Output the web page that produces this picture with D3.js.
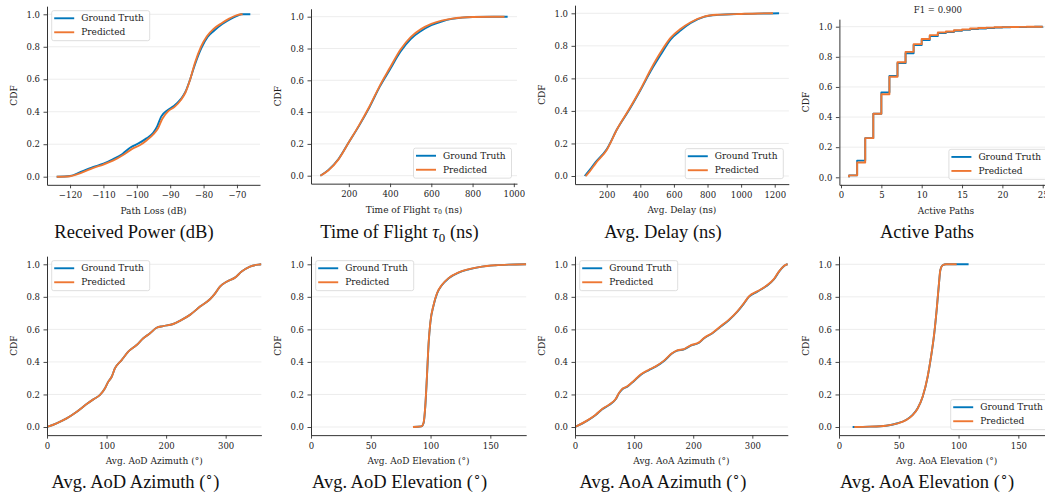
<!DOCTYPE html>
<html>
<head>
<meta charset="utf-8">
<script src="https://cdn.jsdelivr.net/npm/d3@7"></script>
<style>
  html, body { margin: 0; padding: 0; background: #ffffff; }
  svg { display: block; }
</style>
</head>
<body>
<svg id="chart" width="1045" height="500"></svg>
<script>
// ---------------- DATA ----------------
const seriesNames = ["Ground Truth", "Predicted"];
const cdfTicks = [0, 0.2, 0.4, 0.6, 0.8, 1.0];

// Received power (path loss, dB)
const plTruthX = [-124.0, -120.0, -116.8, -113.0, -110.0, -107.2, -104.3, -101.9, -99.5, -97.1, -95.1, -93.9, -92.7, -90.8, -88.9, -86.9, -85.5, -84.1, -82.6, -80.7, -78.8, -76.8, -74.4, -72.0, -69.6, -68.7, -66.0];
const plTruthY = [0, 0.004, 0.03, 0.06, 0.08, 0.107, 0.14, 0.18, 0.205, 0.236, 0.27, 0.31, 0.37, 0.41, 0.435, 0.476, 0.52, 0.595, 0.69, 0.79, 0.86, 0.90, 0.94, 0.97, 0.993, 1.0, 1.0];
const plPredX = [-124.0, -120.0, -116.5, -113.0, -110.0, -107.0, -104.0, -101.5, -99.0, -97.0, -95.0, -93.6, -92.4, -90.5, -88.7, -86.8, -85.4, -84.0, -82.6, -80.8, -79.0, -77.0, -74.6, -72.2, -70.0, -68.3];
const plPredY = [0, 0.003, 0.025, 0.055, 0.075, 0.10, 0.135, 0.17, 0.195, 0.225, 0.262, 0.30, 0.355, 0.405, 0.43, 0.472, 0.52, 0.60, 0.70, 0.80, 0.865, 0.91, 0.945, 0.975, 0.995, 1.0];
const plTicks = [-120, -110, -100, -90, -80, -70];

// Time of flight (ns)
const tofTruthX = [62, 100, 150, 200, 250, 300, 350, 400, 450, 500, 550, 600, 650, 700, 750, 800, 900, 970];
const tofTruthY = [0, 0.035, 0.105, 0.21, 0.315, 0.43, 0.56, 0.67, 0.78, 0.86, 0.91, 0.947, 0.97, 0.986, 0.994, 0.998, 1.0, 1.0];
const tofPredX = [62, 100, 150, 200, 250, 300, 350, 400, 450, 500, 550, 600, 650, 700, 750, 800, 900, 955];
const tofPredY = [0, 0.033, 0.103, 0.21, 0.318, 0.435, 0.565, 0.68, 0.792, 0.872, 0.922, 0.955, 0.975, 0.988, 0.995, 0.998, 1.0, 1.0];
const tofTicks = [200, 400, 600, 800, 1000];

// Average delay (ns)
const delayTruthX = [69, 100, 134, 200, 263, 333, 402, 462, 521, 581, 641, 700, 779, 859, 1000, 1100, 1226];
const delayTruthY = [0, 0.04, 0.085, 0.165, 0.29, 0.405, 0.53, 0.645, 0.745, 0.84, 0.895, 0.94, 0.978, 0.99, 0.996, 0.998, 1.0];
const delayPredX = [75, 100, 134, 200, 263, 333, 402, 462, 521, 581, 641, 700, 779, 859, 1000, 1100, 1190];
const delayPredY = [0, 0.03, 0.078, 0.16, 0.29, 0.41, 0.535, 0.655, 0.76, 0.85, 0.905, 0.945, 0.98, 0.991, 0.996, 0.999, 1.0];
const delayTicks = [200, 400, 600, 800, 1000, 1200];

// Active paths (step CDF)
const pathsX = [1, 1, 2, 3, 4, 5, 6, 7, 8, 9, 10, 11, 12, 13, 14, 15, 16, 17, 18, 19, 20, 21, 22, 23, 24, 25];
const pathsTruthY = [0, 0.013, 0.111, 0.26, 0.422, 0.564, 0.673, 0.758, 0.824, 0.878, 0.911, 0.938, 0.958, 0.965, 0.973, 0.979, 0.984, 0.988, 0.991, 0.994, 0.996, 0.997, 0.998, 0.999, 0.9995, 1.0];
const pathsPredY = [0, 0.013, 0.098, 0.26, 0.422, 0.551, 0.668, 0.764, 0.833, 0.884, 0.918, 0.944, 0.962, 0.968, 0.976, 0.982, 0.988, 0.991, 0.994, 0.996, 0.997, 0.998, 0.999, 0.9995, 1.0, 1.0];
const pathsTicks = [0, 5, 10, 15, 20, 25];
const f1Score = 0.900;

// AoD azimuth (deg)
const aodAzX = [0, 16, 33, 50, 66.6, 77.8, 89, 97.4, 103, 108.6, 114, 125, 136.5, 150.5, 161.7, 173, 184, 195, 212, 226, 240, 257, 273.6, 282, 290.4, 301.6, 315.6, 326.8, 340.8, 354.8, 360];
const aodAzTruthY = [0, 0.023, 0.053, 0.094, 0.141, 0.17, 0.197, 0.238, 0.279, 0.309, 0.36, 0.41, 0.463, 0.504, 0.545, 0.576, 0.61, 0.62, 0.633, 0.658, 0.689, 0.74, 0.785, 0.82, 0.863, 0.893, 0.918, 0.955, 0.986, 0.998, 1.0];
const aodAzPredY = [0, 0.023, 0.053, 0.094, 0.141, 0.17, 0.197, 0.238, 0.279, 0.309, 0.36, 0.41, 0.463, 0.504, 0.545, 0.576, 0.61, 0.62, 0.633, 0.658, 0.689, 0.74, 0.785, 0.82, 0.863, 0.893, 0.918, 0.955, 0.986, 0.998, 1.0];
const azTicks = [0, 100, 200, 300];

// AoD elevation (deg)
const aodElX = [85.3, 92.3, 94.2, 95.6, 97, 98.4, 99.8, 102.6, 105.4, 109.6, 115.1, 123.5, 132, 143, 154.2, 165.3, 180];
const aodElTruthY = [0, 0.004, 0.025, 0.127, 0.31, 0.515, 0.64, 0.75, 0.82, 0.873, 0.914, 0.949, 0.969, 0.986, 0.994, 0.998, 1.0];
const aodElPredY = [0, 0.004, 0.028, 0.13, 0.315, 0.52, 0.642, 0.752, 0.822, 0.874, 0.915, 0.95, 0.97, 0.986, 0.994, 0.998, 1.0];
const elTicks = [0, 50, 100, 150];

// AoA azimuth (deg)
const aoaAzX = [0, 20.9, 35, 46, 57.5, 68.8, 74.4, 80, 88.5, 99.8, 111, 125, 136.5, 150.6, 164.7, 173, 184.4, 195.7, 209.8, 218.3, 232.4, 246.5, 260.6, 274.7, 286, 294.4, 308.5, 322.6, 336.7, 345.2, 356.5, 360];
const aoaAzTruthY = [0, 0.039, 0.074, 0.109, 0.135, 0.17, 0.207, 0.232, 0.248, 0.283, 0.32, 0.35, 0.371, 0.406, 0.453, 0.469, 0.477, 0.5, 0.518, 0.545, 0.576, 0.617, 0.658, 0.709, 0.76, 0.801, 0.832, 0.863, 0.908, 0.955, 0.996, 1.0];
const aoaAzPredY = [0, 0.041, 0.076, 0.111, 0.137, 0.172, 0.209, 0.234, 0.25, 0.285, 0.322, 0.352, 0.373, 0.408, 0.455, 0.471, 0.479, 0.502, 0.52, 0.547, 0.578, 0.619, 0.66, 0.711, 0.762, 0.803, 0.834, 0.865, 0.91, 0.957, 0.997, 1.0];

// AoA elevation (deg)
const aoaElTruthX = [11.4, 25.4, 39.3, 49, 56, 61.6, 65.8, 70, 74.2, 77, 79.7, 81.7, 83.4, 84.8, 86.7, 89.5, 95, 108.4];
const aoaElTruthY = [0, 0.002, 0.008, 0.023, 0.043, 0.074, 0.115, 0.186, 0.31, 0.432, 0.576, 0.72, 0.863, 0.965, 0.994, 1.0, 1.0, 1.0];
const aoaElPredX = [12.8, 25.4, 39.3, 49, 56, 61.6, 65.8, 70, 74.2, 77, 79.7, 81.7, 83.4, 84.8, 86.7, 89.5, 95, 98.4];
const aoaElPredY = [0, 0.002, 0.008, 0.022, 0.042, 0.073, 0.114, 0.187, 0.312, 0.434, 0.578, 0.722, 0.865, 0.966, 0.994, 1.0, 1.0, 1.0];

// ---------------- PANELS ----------------
const panels = [
  { tX: plTruthX, tY: plTruthY, pX: plPredX, pY: plPredY, fixed: null, ticks: plTicks,
    xlabel: [["Path Loss (dB)"]], title: [["Received Power (dB)"]], legend: "ul" },
  { tX: tofTruthX, tY: tofTruthY, pX: tofPredX, pY: tofPredY, fixed: null, ticks: tofTicks,
    xlabel: [["Time of Flight "], ["τ", "it"], ["0", "sub"], [" (ns)"]],
    title: [["Time of Flight "], ["τ", "it"], ["0", "sub"], [" (ns)"]], legend: "lr" },
  { tX: delayTruthX, tY: delayTruthY, pX: delayPredX, pY: delayPredY, fixed: null, ticks: delayTicks,
    xlabel: [["Avg. Delay (ns)"]], title: [["Avg. Delay (ns)"]], legend: "lr" },
  { tX: pathsX, tY: pathsTruthY, pX: pathsX, pY: pathsPredY, fixed: null, ticks: pathsTicks, step: true,
    xlabel: [["Active Paths"]], title: [["Active Paths"]], legend: "lr", top: "F1 = " + f1Score.toFixed(3) },
  { tX: aodAzX, tY: aodAzTruthY, pX: aodAzX, pY: aodAzPredY, fixed: [0, 360], ticks: azTicks,
    xlabel: [["Avg. AoD Azimuth (°)"]], title: [["Avg. AoD Azimuth ("], ["∘", "sup"], [")", "back"]], legend: "ul" },
  { tX: aodElX, tY: aodElTruthY, pX: aodElX, pY: aodElPredY, fixed: [0, 180], ticks: elTicks,
    xlabel: [["Avg. AoD Elevation (°)"]], title: [["Avg. AoD Elevation ("], ["∘", "sup"], [")", "back"]], legend: "ul" },
  { tX: aoaAzX, tY: aoaAzTruthY, pX: aoaAzX, pY: aoaAzPredY, fixed: [0, 360], ticks: azTicks,
    xlabel: [["Avg. AoA Azimuth (°)"]], title: [["Avg. AoA Azimuth ("], ["∘", "sup"], [")", "back"]], legend: "ul" },
  { tX: aoaElTruthX, tY: aoaElTruthY, pX: aoaElPredX, pY: aoaElPredY, fixed: [0, 180], ticks: elTicks,
    xlabel: [["Avg. AoA Elevation (°)"]], title: [["Avg. AoA Elevation ("], ["∘", "sup"], [")", "back"]], legend: "lr" }
];

// ---------------- LAYOUT ----------------
const boxes = [
  { x: 47,    w: 213,   y1: 14.3,  y0: 176.7, col: 134,   tb: 238 },
  { x: 311,   w: 206,   y1: 16.7,  y0: 175.7, col: 399.5, tb: 238 },
  { x: 575,   w: 213.8, y1: 13.3,  y0: 176.0, col: 663,   tb: 238 },
  { x: 839.4, w: 213,   y1: 26.7,  y0: 177.3, col: 927,   tb: 238 },
  { x: 47,    w: 214.4, y1: 264.3, y0: 427.0, col: 135.5, tb: 488 },
  { x: 311,   w: 215.2, y1: 264.3, y0: 427.0, col: 399.5, tb: 488 },
  { x: 575,   w: 212.8, y1: 264.3, y0: 427.0, col: 663,   tb: 488 },
  { x: 839,   w: 215.2, y1: 264.3, y0: 427.0, col: 927,   tb: 488 }
];

const COLORS = ["#0077BB", "#EE7733"];
const AX = "#333333";
const SERIF = "'DejaVu Serif', serif";
const TITLE_FONT = "'Liberation Serif', 'Times New Roman', serif";

const svg = d3.select("#chart");

function addRich(textSel, parts, baseSize) {
  parts.forEach(p => {
    const t = textSel.append("tspan").text(p[0]);
    if (p[1] === "it") t.attr("font-style", "italic");
    if (p[1] === "sub") t.attr("font-size", baseSize * 0.7).attr("dy", baseSize * 0.2);
    if (p[1] === "sup") t.attr("font-size", baseSize * 0.7).attr("dy", -baseSize * 0.45);
    if (p[1] === "back") t.attr("dy", baseSize * 0.45);
    if (p[0] === " (ns)") t.attr("dy", -baseSize * 0.2);
  });
}

panels.forEach((p, i) => {
  const b = boxes[i];
  const s = b.y0 - b.y1;
  const top = b.y1 - 0.05 * s;
  const bottom = b.y0 + 0.05 * s;
  const left = b.x, right = b.x + b.w;

  let dom;
  if (p.fixed) dom = p.fixed;
  else {
    const ext = d3.extent(p.tX.concat(p.pX));
    const m = (ext[1] - ext[0]) * 0.05;
    dom = [ext[0] - m, ext[1] + m];
  }
  const x = d3.scaleLinear().domain(dom).range([left, right]);
  const y = d3.scaleLinear().domain([-0.05, 1.05]).range([bottom, top]);

  const g = svg.append("g");
  const clipId = "clip" + i;
  svg.append("defs").append("clipPath").attr("id", clipId)
    .append("rect").attr("x", left).attr("y", top).attr("width", b.w).attr("height", bottom - top);

  // grid
  g.append("g").selectAll("line").data(cdfTicks).join("line")
    .attr("x1", left).attr("x2", right)
    .attr("y1", d => y(d)).attr("y2", d => y(d))
    .attr("stroke", "#ebebeb").attr("stroke-width", 0.9);

  // lines
  const series = [
    { xs: p.tX, ys: p.tY, c: COLORS[0] },
    { xs: p.pX, ys: p.pY, c: COLORS[1] }
  ];
  const lg = g.append("g").attr("clip-path", `url(#${clipId})`);
  series.forEach(sr => {
    const pts = sr.xs.map((v, k) => [v, sr.ys[k]]);
    const line = d3.line().x(d => x(d[0])).y(d => y(d[1]))
      .curve(p.step ? d3.curveStepAfter : d3.curveMonotoneX);
    lg.append("path").attr("d", line(pts)).attr("fill", "none")
      .attr("stroke", sr.c).attr("stroke-width", 1.9).attr("stroke-linejoin", "round");
  });

  // axes
  const xa = g.append("g").attr("transform", `translate(0,${bottom})`)
    .call(d3.axisBottom(x).tickValues(p.ticks).tickFormat(d3.format("d"))
      .tickSize(3.5).tickPadding(4).tickSizeOuter(0));
  const ya = g.append("g").attr("transform", `translate(${left},0)`)
    .call(d3.axisLeft(y).tickValues(cdfTicks).tickFormat(d3.format(".1f"))
      .tickSize(3.5).tickPadding(3.5).tickSizeOuter(0));
  [xa, ya].forEach(a => {
    a.select(".domain").attr("stroke", AX).attr("stroke-width", 1);
    a.selectAll(".tick line").attr("stroke", AX).attr("stroke-width", 0.9);
    a.selectAll(".tick text").attr("fill", "#222").attr("font-family", SERIF).attr("font-size", 8.5);
  });

  // axis labels
  const xl = g.append("text").attr("x", (left + right) / 2).attr("y", bottom + 29)
    .attr("text-anchor", "middle").attr("font-family", SERIF).attr("font-size", 9).attr("fill", "#222");
  addRich(xl, p.xlabel, 9);
  g.append("text").attr("transform", `translate(${left - 30},${y(0.5)}) rotate(-90)`)
    .attr("text-anchor", "middle").attr("font-family", SERIF).attr("font-size", 9).attr("fill", "#222")
    .text("CDF");

  // title below
  const tt = g.append("text").attr("x", b.col).attr("y", b.tb)
    .attr("text-anchor", "middle").attr("font-family", TITLE_FONT).attr("font-size", 18.5).attr("fill", "#111");
  addRich(tt, p.title, 18.5);

  if (p.top) {
    g.append("text").attr("x", (left + right) / 2 - 8).attr("y", 13)
      .attr("text-anchor", "middle").attr("font-family", SERIF).attr("font-size", 8.5).attr("fill", "#222")
      .text(p.top);
  }

  // legend
  const lw = 98, lh = 30;
  const lx = p.legend === "ul" ? left + 4.7 : right - 5.5 - lw;
  const ly = p.legend === "ul" ? top + 4.5 : bottom - 5.5 - lh;
  const leg = g.append("g").attr("transform", `translate(${lx},${ly})`);
  leg.append("rect").attr("width", lw).attr("height", lh).attr("rx", 2)
    .attr("fill", "#ffffff").attr("fill-opacity", 0.85).attr("stroke", "#d5d5d5").attr("stroke-width", 0.8);
  seriesNames.forEach((nm, k) => {
    const yy = 7.6 + k * 14;
    leg.append("line").attr("x1", 2.5).attr("x2", 22.5).attr("y1", yy).attr("y2", yy)
      .attr("stroke", COLORS[k]).attr("stroke-width", 1.9);
    leg.append("text").attr("x", 29.5).attr("y", yy + 3.2)
      .attr("font-family", SERIF).attr("font-size", 9).attr("fill", "#222").text(nm);
  });
});
</script>
</body>
</html>
